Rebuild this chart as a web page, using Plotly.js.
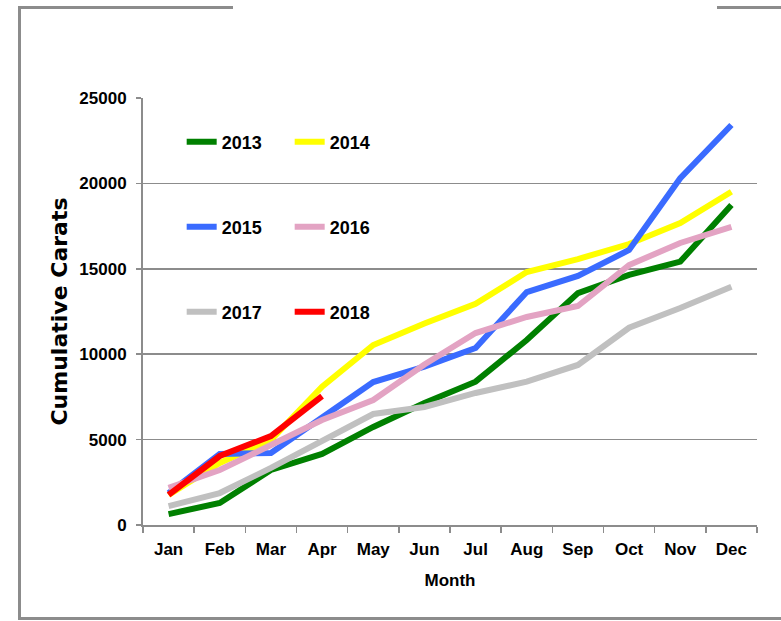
<!DOCTYPE html>
<html>
<head>
<meta charset="utf-8">
<script src="https://cdn.plot.ly/plotly-3.0.1.min.js"></script>
<style>
  html, body { margin: 0; padding: 0; background: #fff; }
  #wrap { position: relative; width: 781px; height: 621px; overflow: hidden; }
  #chart { width: 781px; height: 621px; }
  .bd { position: absolute; background: #8c8c8c; }
</style>
</head>
<body>
<div id="wrap">
  <div id="chart"></div>
  <div class="bd" style="left:18px; top:6px; width:3px; height:614px;"></div>
  <div class="bd" style="left:18px; top:6px; width:215px; height:3px;"></div>
  <div class="bd" style="left:717px; top:6px; width:64px; height:3px;"></div>
  <div class="bd" style="left:18px; top:617px; width:763px; height:3px;"></div>
</div>
<script>
const months = ['Jan','Feb','Mar','Apr','May','Jun','Jul','Aug','Sep','Oct','Nov','Dec'];
const y2013 = [640, 1290, 3220, 4160, 5740, 7140, 8390, 10830, 13580, 14640, 15420, 18740];
const y2014 = [1760, 3630, 4980, 8100, 10540, 11800, 12950, 14810, 15570, 16450, 17680, 19510];
const y2015 = [1870, 4160, 4220, 6260, 8370, 9270, 10360, 13640, 14580, 16100, 20300, 23420];
const y2016 = [2170, 3220, 4680, 6150, 7320, 9400, 11240, 12180, 12820, 15220, 16510, 17450];
const y2017 = [1110, 1870, 3340, 4880, 6500, 6910, 7730, 8390, 9370, 11550, 12700, 13950];
const y2018 = [1760, 4040, 5210, 7550];

const seriesNames = ['2013','2014','2015','2016','2017','2018'];
const seriesData = [y2013, y2014, y2015, y2016, y2017, y2018];
const colors = ['#008000', '#ffff00', '#3a6bff', '#e3a3c3', '#c0c0c0', '#ff0000'];
const legendIds = ['legend','legend','legend2','legend2','legend3','legend3'];

const traces = seriesData.map((vals, i) => ({
  type: 'scatter',
  mode: 'lines',
  name: seriesNames[i],
  x: months.slice(0, vals.length),
  y: vals,
  line: { color: colors[i], width: 6 },
  legend: legendIds[i]
}));

const fontMain = 'Liberation Sans, Arial, sans-serif';
const legendBase = {
  orientation: 'h',
  xanchor: 'left',
  yanchor: 'middle',
  x: 0.063,
  bgcolor: 'rgba(0,0,0,0)',
  font: { family: fontMain, size: 18, color: '#000', weight: 'bold' },
  entrywidth: 63,
  entrywidthmode: 'pixels',
  tracegroupgap: 0,
  itemwidth: 30
};

const layout = {
  width: 781,
  height: 621,
  margin: { l: 143, r: 24, t: 98, b: 96 },
  paper_bgcolor: '#fff',
  plot_bgcolor: '#fff',
  showlegend: true,
  legend: Object.assign({}, legendBase, { y: 0.897 }),
  legend2: Object.assign({}, legendBase, { y: 0.698 }),
  legend3: Object.assign({}, legendBase, { y: 0.499 }),
  xaxis: {
    type: 'category',
    categoryorder: 'array',
    categoryarray: months,
    range: [-0.5, 11.5],
    showline: true,
    linecolor: '#8c8c8c',
    linewidth: 2,
    showgrid: false,
    zeroline: false,
    ticks: 'outside',
    tickson: 'boundaries',
    ticklen: 6,
    tickcolor: '#8c8c8c',
    tickwidth: 1.5,
    ticklabelstandoff: 8,
    tickfont: { family: fontMain, size: 17, color: '#000', weight: 'bold' },
    title: { text: 'Month', font: { family: fontMain, size: 17, color: '#000', weight: 'bold' }, standoff: 16 }
  },
  yaxis: {
    range: [0, 25000],
    dtick: 5000,
    tick0: 0,
    tickformat: 'd',
    showline: true,
    linecolor: '#8c8c8c',
    linewidth: 2,
    showgrid: true,
    gridcolor: '#8c8c8c',
    gridwidth: 1.5,
    zeroline: false,
    ticks: 'outside',
    ticklen: 5,
    tickcolor: '#8c8c8c',
    tickwidth: 1.5,
    ticklabelstandoff: 6,
    tickfont: { family: fontMain, size: 17, color: '#000', weight: 'bold' },
    title: { text: 'Cumulative Carats', font: { family: 'DejaVu Sans', size: 22, color: '#000', weight: 'bold' }, standoff: 6 }
  }
};

Plotly.newPlot('chart', traces, layout, { displayModeBar: false, staticPlot: true });
</script>
</body>
</html>
